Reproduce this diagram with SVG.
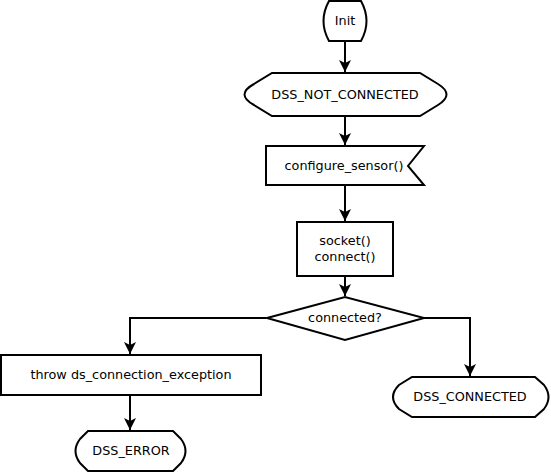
<svg xmlns="http://www.w3.org/2000/svg" width="551" height="472" viewBox="0 0 551 472">
<style>
.s{fill:#fff;stroke:#000;stroke-width:2}
.t{font-family:"DejaVu Sans",sans-serif;font-size:12.8px;fill:#000;text-anchor:middle}
.c{fill:none;stroke:#000;stroke-width:2}
</style>
<defs>
<marker id="a" markerUnits="userSpaceOnUse" markerWidth="14" markerHeight="14" refX="12" refY="6" orient="auto">
<path d="M0,0 L12,6 L0,12 L3,6 Z" fill="#000"/>
</marker>
</defs>
<rect width="551" height="472" fill="#fff"/>
<g id="connectors">
<path class="c" d="M345,41 V72" marker-end="url(#a)"/>
<path class="c" d="M345,116 V145" marker-end="url(#a)"/>
<path class="c" d="M345,185 V221" marker-end="url(#a)"/>
<path class="c" d="M345,276 V296" marker-end="url(#a)"/>
<path class="c" d="M266,318 H130 V354" marker-end="url(#a)"/>
<path class="c" d="M424,318 H470 V376" marker-end="url(#a)"/>
<path class="c" d="M130,395 V430" marker-end="url(#a)"/>
</g>
<g id="init">
<path class="s" d="M329,1 H361 Q372,21 361,41 H329 Q318,21 329,1 Z"/>
<text class="t" x="345" y="25">Init</text>
</g>
<g id="dss_not_connected">
<path class="s" d="M272,73 H420 L438,84 Q455,94.5 438,105 L420,116 H272 L254,105 Q235,94.5 254,84 Z"/>
<text class="t" x="345" y="99">DSS_NOT_CONNECTED</text>
</g>
<g id="configure_sensor">
<path class="s" d="M266,146 H424 L408,166 L424,185 H266 Z"/>
<text class="t" x="344" y="170">configure_sensor()</text>
</g>
<g id="socket_connect">
<rect class="s" x="297" y="222" width="96" height="54"/>
<text class="t" x="345" y="245">socket()</text>
<text class="t" x="345" y="261">connect()</text>
</g>
<g id="connected_decision">
<path class="s" d="M267,318 L345,297 L424,318 L345,340 Z"/>
<text class="t" x="345" y="322">connected?</text>
</g>
<g id="throw">
<rect class="s" x="1" y="355" width="260" height="40"/>
<text class="t" x="131" y="379">throw ds_connection_exception</text>
</g>
<g id="dss_error">
<path class="s" d="M88,431 H173 L181,439 Q190,451 181,463 L173,471 H88 L80,463 Q71,451 80,439 Z"/>
<text class="t" x="131" y="455">DSS_ERROR</text>
</g>
<g id="dss_connected">
<path class="s" d="M412,377 H535 L544,385 Q553,397 544,409 L535,417 H412 L399,409 Q387,397 399,385 Z"/>
<text class="t" x="470" y="401">DSS_CONNECTED</text>
</g>
</svg>
